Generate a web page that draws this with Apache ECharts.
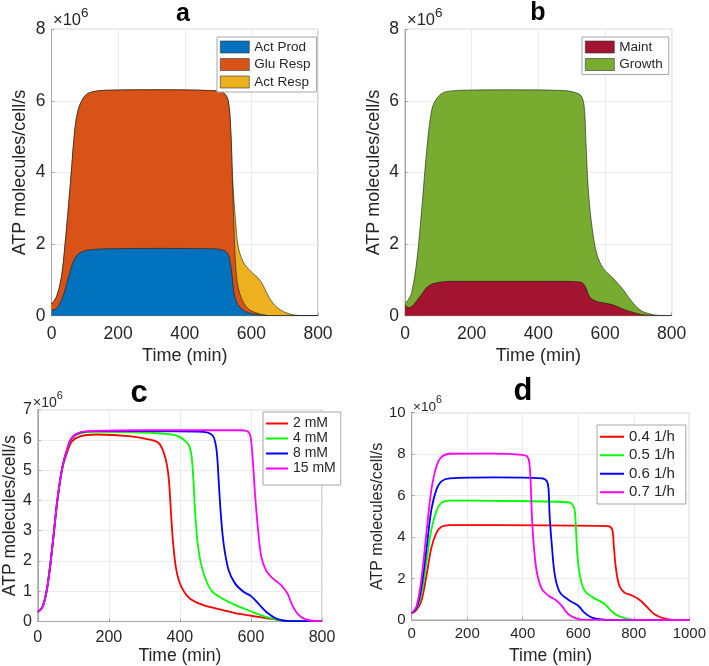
<!DOCTYPE html>
<html>
<head>
<meta charset="utf-8">
<script src="https://cdn.jsdelivr.net/npm/echarts@6/dist/echarts.min.js"></script>
<style>
  html, body { margin: 0; padding: 0; background: #fff; }
  #chart { width: 709px; height: 666px; }
</style>
</head>
<body>
<div id="chart"></div>
<script>
// values are in units of 10^6 ATP molecules/cell/s

// panel a: stacked contributions
const timeA = [0, 15, 30, 40, 50, 60, 70, 80, 95, 110, 140, 180, 300, 475, 515, 530, 538, 543, 548, 553, 560, 575, 595, 625, 640, 655, 675, 705, 745, 800]
const actProd = [0.16, 0.2, 0.44, 0.7, 1.05, 1.37, 1.6, 1.72, 1.8, 1.83, 1.86, 1.87, 1.88, 1.87, 1.83, 1.72, 1.4, 1.05, 0.62, 0.45, 0.3, 0.16, 0.07, 0.02, 0.01, 0, 0, 0, 0, 0]
const gluResp = [0.17, 0.33, 0.65, 1.23, 1.9, 2.7, 3.59, 4.02, 4.27, 4.38, 4.42, 4.43, 4.43, 4.42, 4.4, 4.3, 3.79, 2.75, 1.77, 0.92, 0.51, 0.23, 0.09, 0.03, 0.01, 0, 0, 0, 0, 0]
const actResp = [0, 0, 0, 0, 0, 0, 0, 0, 0, 0, 0, 0, 0, 0, 0, 0, 0, 0.2, 0.8, 1.23, 1.14, 1.12, 1.11, 0.95, 0.74, 0.48, 0.25, 0.08, 0.005, 0]

// panel b: maintenance vs growth
const timeB = [0, 10, 20, 35, 50, 65, 80, 95, 115, 140, 180, 300, 475, 515, 530, 538, 543, 550, 560, 575, 595, 625, 655, 675, 705, 735, 760, 800]
const maint = [0.31, 0.23, 0.25, 0.42, 0.6, 0.79, 0.88, 0.92, 0.95, 0.96, 0.96, 0.96, 0.96, 0.95, 0.93, 0.86, 0.78, 0.6, 0.47, 0.4, 0.36, 0.3, 0.18, 0.12, 0.04, 0.01, 0, 0]
const growth = [0.04, 0.22, 0.4, 1.08, 2.35, 3.81, 4.86, 5.15, 5.28, 5.32, 5.34, 5.35, 5.33, 5.27, 5.19, 4.94, 4.02, 2.9, 2.08, 1.34, 0.96, 0.74, 0.54, 0.34, 0.12, 0.04, 0.01, 0]

// panel c: glucose concentration
const tC2 = [0, 14, 27, 41, 55, 69, 83, 96, 119, 165, 257, 312, 340, 354, 363, 369, 375, 381, 390, 404, 427, 464, 509, 555, 601, 647, 693, 750, 800]
const vC2 = [0.31, 0.5, 1.16, 2.48, 4.0, 5.05, 5.6, 5.95, 6.12, 6.18, 6.13, 6.02, 5.9, 5.6, 5.2, 4.68, 3.58, 2.58, 1.7, 1.15, 0.77, 0.55, 0.41, 0.28, 0.19, 0.1, 0.03, 0.01, 0.01]
const tC4 = [0, 14, 27, 41, 55, 69, 83, 96, 119, 165, 280, 372, 399, 418, 427, 433, 438, 443, 450, 459, 473, 491, 518, 555, 601, 647, 693, 750, 800]
const vC4 = [0.31, 0.5, 1.16, 2.48, 4.0, 5.08, 5.68, 6.05, 6.22, 6.27, 6.25, 6.19, 6.1, 5.94, 5.78, 5.45, 4.68, 3.58, 2.58, 1.93, 1.38, 0.99, 0.77, 0.55, 0.33, 0.14, 0.03, 0.01, 0.01]
const tC8 = [0, 14, 27, 41, 55, 69, 83, 96, 119, 165, 300, 464, 491, 500, 505, 509, 515, 523, 537, 555, 578, 601, 624, 647, 675, 711, 760, 800]
const vC8 = [0.31, 0.5, 1.16, 2.48, 4.0, 5.1, 5.71, 6.07, 6.24, 6.29, 6.29, 6.27, 6.16, 5.89, 5.45, 4.68, 3.58, 2.58, 1.7, 1.26, 0.99, 0.83, 0.55, 0.28, 0.08, 0.01, 0.01, 0.01]
const tC15 = [0, 14, 27, 41, 55, 69, 83, 96, 119, 165, 300, 574, 592, 599, 606, 612, 620, 629, 642, 661, 684, 702, 716, 734, 757, 794, 800]
const vC15 = [0.31, 0.5, 1.16, 2.48, 4.0, 5.1, 5.72, 6.08, 6.25, 6.3, 6.32, 6.32, 6.27, 6.1, 5.2, 4.13, 3.03, 2.15, 1.7, 1.43, 1.21, 0.94, 0.55, 0.22, 0.06, 0.01, 0.01]

// panel d: growth rate
const tD4 = [0, 18, 35, 53, 71, 89, 107, 137, 300, 706, 722, 728, 736, 748, 766, 796, 825, 849, 873, 908, 944, 1000]
const vD4 = [0.32, 0.5, 0.93, 2.13, 3.49, 4.2, 4.5, 4.58, 4.58, 4.53, 4.37, 3.57, 2.45, 1.65, 1.33, 1.17, 0.93, 0.61, 0.29, 0.08, 0.01, 0]
const tD5 = [0, 18, 35, 53, 71, 89, 107, 137, 300, 564, 585, 591, 597, 606, 623, 653, 695, 718, 742, 778, 813, 1000]
const vD5 = [0.32, 0.55, 1.25, 2.77, 4.37, 5.25, 5.65, 5.76, 5.75, 5.68, 5.41, 4.53, 3.09, 2.13, 1.41, 1.09, 0.77, 0.45, 0.21, 0.05, 0, 0]
const tD6 = [0, 18, 35, 53, 71, 89, 107, 137, 300, 469, 487, 493, 497, 505, 516, 534, 564, 600, 623, 647, 683, 730, 1000]
const vD6 = [0.32, 0.6, 1.57, 3.4, 5.33, 6.29, 6.69, 6.83, 6.88, 6.83, 6.69, 6.29, 5.0, 3.57, 2.13, 1.33, 0.98, 0.69, 0.34, 0.13, 0.03, 0, 0]
const tD7 = [0, 18, 35, 53, 71, 89, 107, 137, 300, 398, 416, 424, 429, 433, 440, 451, 469, 493, 522, 540, 564, 588, 612, 1000]
const vD7 = [0.32, 0.69, 1.97, 4.2, 6.29, 7.41, 7.86, 8.02, 8.03, 7.97, 7.89, 7.57, 6.45, 5.0, 3.57, 2.29, 1.49, 1.17, 0.93, 0.69, 0.29, 0.1, 0.02, 0]

const FONT = '"Liberation Sans", Arial, sans-serif'
const TXT = '#262626'
const BOX = '#a6a6a6'

const pairs = (t, v) => t.map((x, i) => [x, v[i]])
// running totals so each area is drawn from 0 up to its stacked top
const cumulate = (...layers) => layers[0].map((_, i) => layers.reduce((s, l) => s + l[i], 0))

function xAxis(gi, max, fs, nameFs, gap, margin) {
  return {
    type: 'value', gridIndex: gi, min: 0, max: max, interval: 200,
    name: 'Time (min)', nameLocation: 'middle', nameGap: gap,
    nameTextStyle: { color: TXT, fontSize: nameFs, fontFamily: FONT },
    axisLine: { show: true, lineStyle: { color: BOX } },
    axisTick: { inside: true, length: 3, lineStyle: { color: BOX } },
    axisLabel: { color: TXT, fontSize: fs, fontFamily: FONT, margin: margin, formatter: v => String(v) },
    splitLine: { lineStyle: { color: '#ebebeb' } }
  }
}

function yAxis(gi, max, interval, fs, nameFs, gap) {
  return {
    type: 'value', gridIndex: gi, min: 0, max: max, interval: interval,
    name: 'ATP molecules/cell/s', nameLocation: 'middle', nameGap: gap,
    nameTextStyle: { color: TXT, fontSize: nameFs, fontFamily: FONT },
    axisLine: { show: true, lineStyle: { color: BOX } },
    axisTick: { inside: true, length: 3, lineStyle: { color: BOX } },
    axisLabel: { color: TXT, fontSize: fs, fontFamily: FONT, margin: 6 },
    splitLine: { lineStyle: { color: '#ebebeb' } }
  }
}

function areaSeries(name, gi, t, top, color, z) {
  return {
    name: name, type: 'line', xAxisIndex: gi, yAxisIndex: gi, z: z,
    data: pairs(t, top), smooth: 0.35, symbol: 'none',
    lineStyle: { color: '#1a1a1a', width: 0.6 },
    areaStyle: { color: color, opacity: 1, origin: 'start' },
    animation: false
  }
}

function lineSeries(name, gi, t, v, color) {
  return {
    name: name, type: 'line', xAxisIndex: gi, yAxisIndex: gi,
    data: pairs(t, v), smooth: 0.35, symbol: 'none',
    itemStyle: { color: color },
    lineStyle: { color: color, width: 1.8 },
    animation: false
  }
}

function exponent(left, top, fs) {
  return {
    text: '{a|×10}{s|6}', left: left, top: top, padding: 0,
    textStyle: {
      fontWeight: 'normal',
      rich: {
        a: { fontSize: fs, fontWeight: 'normal', color: TXT, fontFamily: FONT, verticalAlign: 'bottom', lineHeight: fs + 6 },
        s: { fontSize: fs - 3, fontWeight: 'normal', color: TXT, fontFamily: FONT, verticalAlign: 'top', lineHeight: fs + 6 }
      }
    }
  }
}

function panelTitle(text, left, top, fs) {
  return {
    text: text, left: left, top: top, padding: 0, textAlign: 'center',
    textStyle: { fontSize: fs, fontWeight: 'bold', color: '#000', fontFamily: FONT }
  }
}

const legendBase = {
  orient: 'vertical', backgroundColor: '#fff', borderColor: BOX, borderWidth: 1
}

const chart = echarts.init(document.getElementById('chart'))
chart.setOption({
  backgroundColor: '#fff',
  animation: false,
  title: [
    panelTitle('a', 183, 2, 25),
    panelTitle('b', 538, 1, 25),
    panelTitle('c', 139, 378, 31),
    panelTitle('d', 523, 376, 31),
    exponent(53, 6, 16.5),
    exponent(407, 6, 16.5),
    exponent(33, 390, 14),
    exponent(413, 395, 13.5)
  ],
  grid: [
    { left: 51.5, top: 29.3, width: 266.5, height: 286.4, show: true, borderColor: BOX, borderWidth: 1 },
    { left: 405, top: 29.3, width: 266.7, height: 286.4, show: true, borderColor: BOX, borderWidth: 1 },
    { left: 31.7, top: 409.7, width: 290.3, height: 212, show: true, borderColor: BOX, borderWidth: 1 },
    { left: 411.7, top: 412.7, width: 280.6, height: 208.3, show: true, borderColor: BOX, borderWidth: 1 }
  ],
  xAxis: [
    xAxis(0, 800, 17.5, 18, 31, 9),
    xAxis(1, 800, 17.5, 18, 31, 9),
    xAxis(2, 800, 16, 17.5, 25.5, 8),
    xAxis(3, 1000, 15, 17.5, 27, 6)
  ],
  yAxis: [
    yAxis(0, 8, 2, 17.5, 18, 22),
    yAxis(1, 8, 2, 17.5, 18, 22),
    yAxis(2, 7, 1, 16, 17.5, 14),
    yAxis(3, 10, 2, 15, 16, 21)
  ],
  legend: [
    Object.assign({}, legendBase, {
      left: 217, top: 37, itemWidth: 29, itemHeight: 12, itemGap: 3.5,
      padding: [3, 6, 3, 3], icon: 'rect',
      textStyle: { color: TXT, fontFamily: FONT, fontSize: 13.5 },
      itemStyle: { borderColor: '#333', borderWidth: 0.6 },
      data: [
        { name: 'Act Prod', itemStyle: { color: '#0072BD' } },
        { name: 'Glu Resp', itemStyle: { color: '#D95319' } },
        { name: 'Act Resp', itemStyle: { color: '#EDB120' } }
      ]
    }),
    Object.assign({}, legendBase, {
      left: 582, top: 37, itemWidth: 29, itemHeight: 12, itemGap: 3.5,
      padding: [3, 6, 3, 3], icon: 'rect',
      textStyle: { color: TXT, fontFamily: FONT, fontSize: 13.5 },
      itemStyle: { borderColor: '#333', borderWidth: 0.6 },
      data: [
        { name: 'Maint', itemStyle: { color: '#A2142F' } },
        { name: 'Growth', itemStyle: { color: '#77AC30' } }
      ]
    }),
    Object.assign({}, legendBase, {
      left: 263, top: 412, itemWidth: 22, itemHeight: 2, itemGap: 0,
      padding: [4, 5, 9, 3], icon: 'rect',
      textStyle: { color: TXT, fontFamily: FONT, fontSize: 14, lineHeight: 15 },
      data: ['2 mM', '4 mM', '8 mM', '15 mM']
    }),
    Object.assign({}, legendBase, {
      left: 597, top: 425, itemWidth: 24, itemHeight: 2, itemGap: 3,
      padding: [4, 11, 4, 3], icon: 'rect',
      textStyle: { color: TXT, fontFamily: FONT, fontSize: 15, lineHeight: 15.5 },
      data: ['0.4 1/h', '0.5 1/h', '0.6 1/h', '0.7 1/h']
    })
  ],
  series: [
    areaSeries('Act Resp', 0, timeA, cumulate(actProd, gluResp, actResp), '#EDB120', 2),
    areaSeries('Glu Resp', 0, timeA, cumulate(actProd, gluResp), '#D95319', 3),
    areaSeries('Act Prod', 0, timeA, cumulate(actProd), '#0072BD', 4),
    areaSeries('Growth', 1, timeB, cumulate(maint, growth), '#77AC30', 2),
    areaSeries('Maint', 1, timeB, cumulate(maint), '#A2142F', 3),
    lineSeries('2 mM', 2, tC2, vC2, '#FF0000'),
    lineSeries('4 mM', 2, tC4, vC4, '#00FF00'),
    lineSeries('8 mM', 2, tC8, vC8, '#0000FF'),
    lineSeries('15 mM', 2, tC15, vC15, '#FF00FF'),
    lineSeries('0.4 1/h', 3, tD4, vD4, '#FF0000'),
    lineSeries('0.5 1/h', 3, tD5, vD5, '#00FF00'),
    lineSeries('0.6 1/h', 3, tD6, vD6, '#0000FF'),
    lineSeries('0.7 1/h', 3, tD7, vD7, '#FF00FF')
  ]
})
</script>
</body>
</html>
